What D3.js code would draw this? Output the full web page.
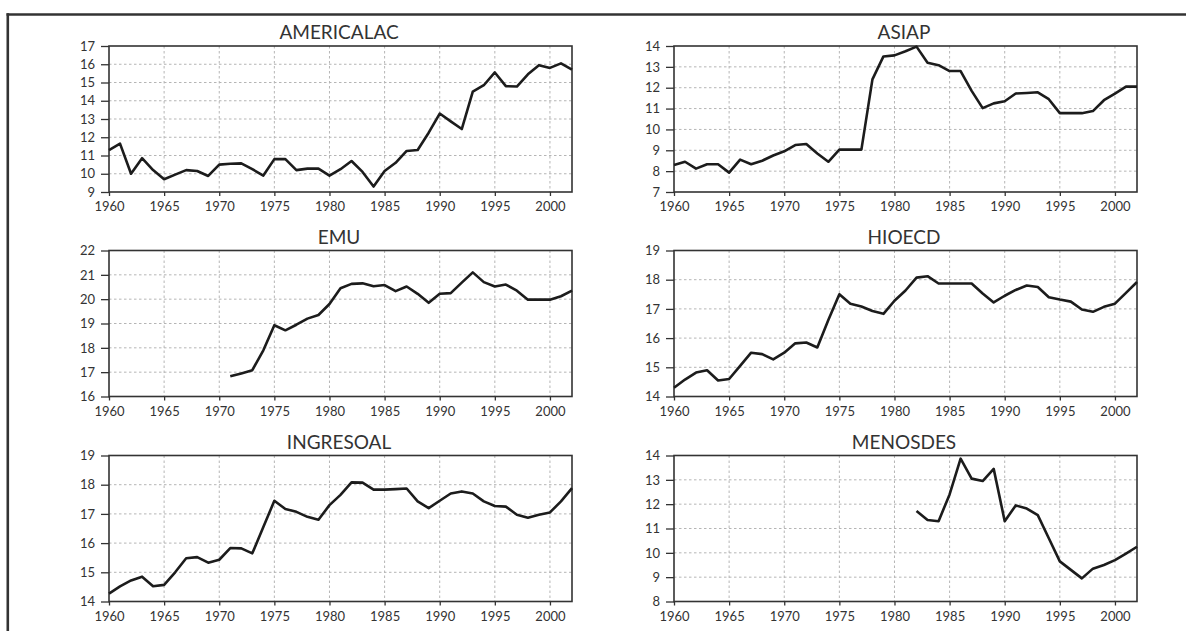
<!DOCTYPE html>
<html><head><meta charset="utf-8">
<script src="https://cdn.jsdelivr.net/npm/d3@7"></script>
<style>
html,body{margin:0;padding:0;background:#fff;}
svg{display:block;}
text{font-family:Lato,"Open Sans",sans-serif;fill:#333;}
</style></head>
<body><svg id="c" width="1186" height="631"></svg>
<script>
const years = d3.range(1960, 2003);
const xTicks = [1960,1965,1970,1975,1980,1985,1990,1995,2000];
const titles = ["AMERICALAC","ASIAP","EMU","HIOECD","INGRESOAL","MENOSDES"];
const yDomains = [[9,17],[7,14],[16,22],[14,19],[14,19],[8,14]];
const americalac = [11.3,11.65,10.0,10.85,10.2,9.7,9.95,10.2,10.15,9.88,
  10.5,10.55,10.57,10.25,9.9,10.8,10.8,10.2,10.28,10.28,
  9.9,10.25,10.7,10.1,9.3,10.15,10.6,11.25,11.3,12.25,
  13.3,12.87,12.45,14.5,14.85,15.55,14.8,14.78,15.45,15.95,
  15.8,16.05,15.7];
const asiap = [8.3,8.45,8.12,8.33,8.33,7.93,8.55,8.33,8.5,8.75,
  8.95,9.25,9.3,8.85,8.45,9.03,9.03,9.03,12.4,13.5,
  13.55,13.75,13.97,13.2,13.08,12.8,12.8,11.85,11.02,11.25,
  11.35,11.72,11.75,11.78,11.45,10.78,10.78,10.78,10.88,11.4,
  11.72,12.05,12.05];
const emu = [null,null,null,null,null,null,null,null,null,null,
  null,16.83,16.95,17.08,17.9,18.93,18.72,18.95,19.2,19.35,
  19.8,20.45,20.63,20.65,20.53,20.58,20.33,20.52,20.22,19.85,
  20.22,20.25,20.68,21.1,20.7,20.52,20.6,20.35,19.98,19.98,
  19.98,20.12,20.35];
const hioecd = [14.3,14.58,14.82,14.9,14.55,14.6,15.05,15.5,15.45,15.27,
  15.5,15.82,15.85,15.68,16.62,17.5,17.18,17.08,16.93,16.83,
  17.28,17.63,18.07,18.12,17.87,17.87,17.87,17.87,17.53,17.22,
  17.45,17.65,17.8,17.75,17.4,17.32,17.25,16.98,16.9,17.07,
  17.18,17.55,17.92];
const ingresoal = [14.27,14.52,14.72,14.85,14.52,14.57,15.0,15.48,15.52,15.33,
  15.43,15.83,15.82,15.65,16.55,17.45,17.17,17.07,16.9,16.8,
  17.3,17.65,18.08,18.07,17.83,17.83,17.85,17.87,17.43,17.2,
  17.45,17.7,17.77,17.7,17.43,17.27,17.25,16.97,16.87,16.97,
  17.05,17.43,17.88];
const menosdes = [null,null,null,null,null,null,null,null,null,null,
  null,null,null,null,null,null,null,null,null,null,
  null,null,11.72,11.35,11.3,12.4,13.87,13.05,12.95,13.45,
  11.3,11.95,11.82,11.55,10.6,9.65,9.3,8.95,9.35,9.5,
  9.7,9.97,10.25];
const series = [americalac, asiap, emu, hioecd, ingresoal, menosdes];

const svg = d3.select("#c");
// outer frame
svg.append("line").attr("x1",6.5).attr("x2",1186).attr("y1",14.5).attr("y2",14.5)
  .attr("stroke","#333").attr("stroke-width",2.6);
svg.append("line").attr("x1",7.8).attr("x2",7.8).attr("y1",13.2).attr("y2",631)
  .attr("stroke","#333").attr("stroke-width",2.6);

const colLeft = [109, 674], rowTop = [46, 250.5, 455.5];
const W = 463, H = 146;

series.forEach((vals, i) => {
  const left = colLeft[i % 2], top = rowTop[Math.floor(i / 2)];
  const g = svg.append("g").attr("transform", `translate(${left},${top})`);
  const x = d3.scaleLinear().domain([1960, 2002]).range([0, W]);
  const y = d3.scaleLinear().domain(yDomains[i]).range([H, 0]);
  const yt = d3.range(yDomains[i][0], yDomains[i][1] + 1);
  // grid
  g.append("g").selectAll("line").data(yt.slice(1, -1)).join("line")
    .attr("x1",0).attr("x2",W).attr("y1",d=>y(d)).attr("y2",d=>y(d))
    .attr("stroke","#b5b5b5").attr("stroke-width",1).attr("stroke-dasharray","2.5,2.5");
  g.append("g").selectAll("line").data(xTicks.slice(1)).join("line")
    .attr("y1",0).attr("y2",H).attr("x1",d=>x(d)).attr("x2",d=>x(d))
    .attr("stroke","#b5b5b5").attr("stroke-width",1).attr("stroke-dasharray","2.5,2.5");
  // axes
  const xa = g.append("g").attr("transform",`translate(0,${H})`)
    .call(d3.axisBottom(x).tickValues(xTicks).tickFormat(d3.format("d")).tickSize(4).tickSizeOuter(0).tickPadding(6));
  const ya = g.append("g")
    .call(d3.axisLeft(y).tickValues(yt).tickFormat(d3.format("d")).tickSize(8).tickSizeOuter(0).tickPadding(6));
  [xa, ya].forEach(a => {
    a.select(".domain").remove();
    a.selectAll(".tick line").attr("stroke","#333").attr("stroke-width",1.3);
    a.selectAll("text").attr("font-size",13).attr("fill","#333").style("font-family","Lato");
  });
  // frame
  g.append("rect").attr("x",0).attr("y",0).attr("width",W).attr("height",H)
    .attr("fill","none").attr("stroke","#333").attr("stroke-width",1.6);
  // line
  const line = d3.line().defined(d => d[1] != null).x(d => x(d[0])).y(d => y(d[1]));
  g.append("path").datum(years.map((yr, k) => [yr, vals[k]]))
    .attr("d", line).attr("fill","none").attr("stroke","#1c1c1c")
    .attr("stroke-width",2.6).attr("stroke-linejoin","round");
  g.append("text").attr("x", W/2 - 1.5).attr("y", -7).attr("text-anchor","middle")
    .attr("font-size",19).text(titles[i]);
});
</script></body></html>
